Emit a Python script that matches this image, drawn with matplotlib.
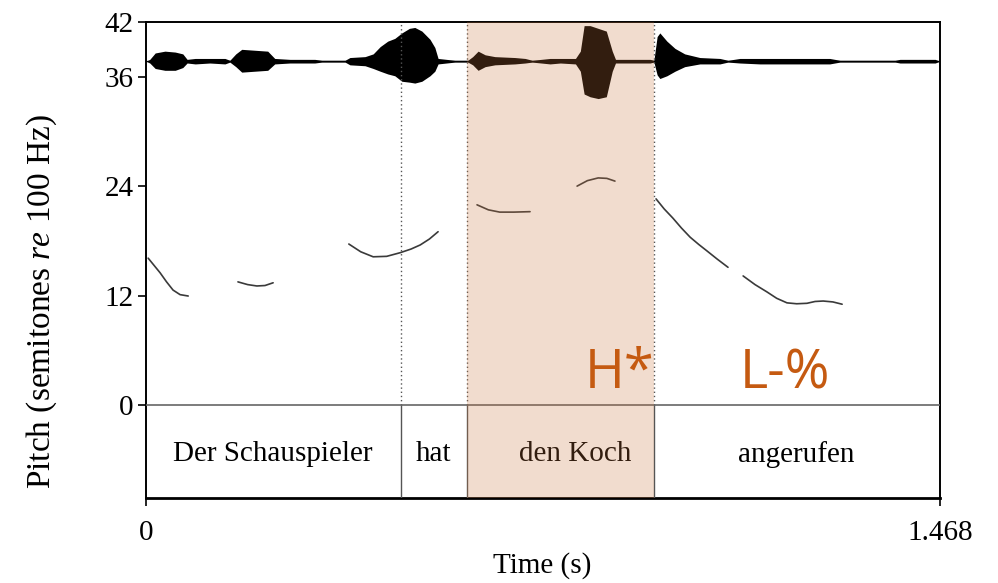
import numpy as np
import matplotlib.pyplot as plt

plt.rcParams['font.family'] = ['Liberation Serif', 'DejaVu Serif']
plt.rcParams['mathtext.fontset'] = 'custom'
plt.rcParams['mathtext.rm'] = 'Liberation Serif'
plt.rcParams['mathtext.it'] = 'Liberation Serif:italic'

T_END = 1.468

# word tier: boundaries (s) and labels
word_bounds = [0.0, 0.471, 0.593, 0.939, 1.468]
words = ["Der Schauspieler", "hat", "den Koch", "angerufen"]
word_label_t = [0.234, 0.532, 0.793, 1.203]
focus_word = 2

# pitch track (semitones re 100 Hz), one list per voiced stretch
pitch_t = [
    [0.004, 0.015, 0.026, 0.038, 0.050, 0.063, 0.078],
    [0.170, 0.188, 0.205, 0.220, 0.235],
    [0.375, 0.397, 0.420, 0.445, 0.470, 0.490, 0.507, 0.524, 0.540],
    [0.612, 0.633, 0.654, 0.680, 0.710],
    [0.797, 0.816, 0.836, 0.852, 0.867],
    [0.943, 0.958, 0.974, 0.990, 1.006, 1.022, 1.037, 1.056, 1.076],
    [1.104, 1.126, 1.148, 1.166, 1.185, 1.203, 1.222, 1.237, 1.252, 1.270, 1.287],
]
pitch_st = [
    [16.1, 15.3, 14.5, 13.5, 12.6, 12.1, 11.95],
    [13.5, 13.2, 13.05, 13.1, 13.4],
    [17.65, 16.8, 16.25, 16.3, 16.7, 17.1, 17.55, 18.2, 19.0],
    [21.95, 21.4, 21.15, 21.15, 21.2],
    [24.0, 24.6, 24.9, 24.85, 24.55],
    [22.6, 21.5, 20.5, 19.4, 18.4, 17.6, 16.9, 16.0, 15.1],
    [14.15, 13.2, 12.4, 11.7, 11.2, 11.1, 11.15, 11.35, 11.4, 11.3, 11.05],
]

# waveform envelope drawn above the pitch track (centre, upper and lower amplitude)
wave_centre = 37.7
wave_t = [0.000, 0.007, 0.017, 0.035, 0.054, 0.068, 0.076, 0.091, 0.118,
          0.146, 0.155, 0.166, 0.177, 0.201, 0.225, 0.238, 0.266, 0.312,
          0.325, 0.368, 0.377, 0.405, 0.420, 0.433, 0.447, 0.460, 0.473,
          0.487, 0.497, 0.510, 0.525, 0.534, 0.540, 0.571, 0.595, 0.604,
          0.614, 0.627, 0.645, 0.682, 0.701, 0.714, 0.747, 0.766, 0.794,
          0.803, 0.810, 0.821, 0.836, 0.851, 0.862, 0.868, 0.932, 0.939,
          0.945, 0.950, 0.963, 0.978, 0.996, 1.024, 1.061, 1.076, 1.098,
          1.135, 1.190, 1.264, 1.283, 1.385, 1.394, 1.459, 1.468]
wave_up = [0.0, 0.2, 0.9, 1.1, 1.0, 0.8, 0.2, 0.3, 0.3,
           0.3, 0.1, 0.8, 1.3, 1.2, 1.1, 0.3, 0.2, 0.2,
           0.1, 0.1, 0.4, 0.5, 0.8, 1.6, 2.2, 2.5, 3.1,
           3.6, 3.7, 3.3, 2.4, 1.5, 0.3, 0.1, 0.1, 0.5,
           1.1, 0.7, 0.5, 0.4, 0.3, 0.1, 0.3, 0.3, 0.3,
           1.1, 3.9, 3.9, 3.6, 3.3, 1.1, 0.2, 0.2, 0.1,
           2.7, 3.1, 2.2, 1.4, 0.8, 0.4, 0.3, 0.1, 0.3,
           0.3, 0.3, 0.3, 0.1, 0.1, 0.2, 0.2, 0.0]
wave_down = [0.0, 0.2, 0.8, 1.0, 1.0, 0.7, 0.2, 0.3, 0.2,
             0.3, 0.1, 0.6, 1.2, 1.1, 1.0, 0.3, 0.2, 0.2,
             0.1, 0.1, 0.4, 0.5, 0.8, 1.1, 1.4, 1.6, 2.2,
             2.3, 2.4, 2.2, 1.6, 1.1, 0.3, 0.1, 0.1, 0.4,
             1.0, 0.6, 0.4, 0.3, 0.2, 0.1, 0.3, 0.2, 0.3,
             1.1, 3.6, 3.9, 4.1, 3.9, 1.1, 0.2, 0.2, 0.1,
             1.5, 1.9, 1.6, 1.1, 0.6, 0.3, 0.3, 0.1, 0.2,
             0.3, 0.3, 0.3, 0.1, 0.1, 0.2, 0.2, 0.0]

# tone labels: text, start time, baseline height
tones = ["H*", "L-%"]
tone_t = [0.812, 1.098]
tone_y = [1.85, 1.85]

y_ticks = [0, 12, 24, 36, 42]
y_min, y_max = -10.2, 42

fig = plt.figure(figsize=(9.98, 5.83), dpi=100)
ax = fig.add_axes([0.1463, 0.1458, 0.9419 - 0.1463, 0.9623 - 0.1458])

# waveform
ax.axhline(wave_centre, color='black', lw=0.9, zorder=2)
wt = np.array(wave_t)
ax.fill_between(wt, wave_centre + np.array(wave_up), wave_centre - np.array(wave_down),
                color='black', lw=0, zorder=2)

# pitch contours
for ts, ys in zip(pitch_t, pitch_st):
    ax.plot(ts, ys, color='#3a3a3a', lw=1.2, zorder=3, solid_capstyle='round')

# tier boundaries: dotted above the word tier, solid inside it
for b in word_bounds[1:-1]:
    ax.plot([b, b], [0, y_max], color='#555555', lw=1.0, ls=(0, (1, 2)), zorder=4)
    ax.plot([b, b], [y_min, 0], color='#555555', lw=1.0, zorder=4)
ax.axhline(0, color='#666666', lw=1.2, zorder=4)

for lab, t in zip(words, word_label_t):
    ax.text(t, -5.4, lab, ha='center', va='center', fontsize=21, color='black', zorder=5)

# highlight of the accented word
ax.axvspan(word_bounds[focus_word], word_bounds[focus_word + 1],
           color=(0.796, 0.468, 0.248), alpha=0.25, lw=0, zorder=10)

for lab, t, y in zip(tones, tone_t, tone_y):
    ax.text(t, y, lab, ha='left', va='baseline', fontsize=39, color='#C55A11',
            family=['Open Sans', 'DejaVu Sans'], zorder=11)

ax.set_xlim(0, T_END)
ax.set_ylim(y_min, y_max)
ax.set_yticks(y_ticks)
ax.set_yticklabels([str(v) for v in y_ticks])
ax.set_xticks([0, T_END])
ax.set_xticklabels(["0", "1.468"])
ax.tick_params(axis='both', direction='out', length=6, width=1.2, labelsize=21, pad=3)
ax.tick_params(axis='x', pad=10)

for side in ['left', 'right', 'top']:
    ax.spines[side].set_linewidth(1.4)
    ax.spines[side].set_color('black')
ax.spines['bottom'].set_linewidth(2.0)

fig.text(0.543, 0.030, "Time (s)", ha='center', va='center', fontsize=21)
fig.text(0.042, 0.482, r"Pitch (semitones $\mathit{re}$ 100 Hz)", rotation=90,
         ha='center', va='center', fontsize=24)

fig.savefig("out.png", dpi=100)
